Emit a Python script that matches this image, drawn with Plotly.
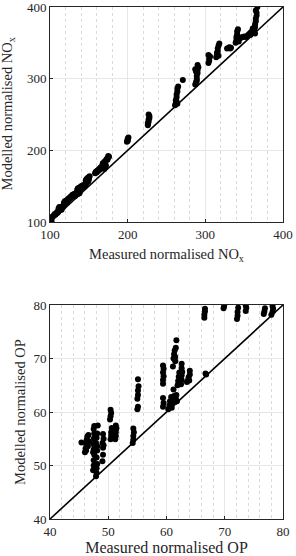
import plotly.graph_objects as go

# ---- Data: NOx (top panel) ----
nox_measured = [100,100,101,101,102,103,104,102,
    105,106,107,108,109,110,111,112,
    111,112,113,114,115,116,117,118,
    118,119,120,121,122,123,124,125,
    126,127,128,129,130,131,132,133,134,135,136,137,138,
    135,136,137,138,139,140,141,142,143,144,145,146,147,
    146,147,148,149,150,151,150,149,
    158,159,160,161,162,163,164,165,166,
    167,168,168,169,170,171,172,173,174,175,176,175,170,171,172,
    199,200,200,201,200,
    226,226,227,227,228,228,227,226,
    261,262,262,263,263,264,264,265,263,264,
    271,
    287,288,289,289,290,290,291,290,288,287,289,
    304,305,305,306,304,
    314,315,316,316,317,318,315,317,
    328,330,331,332,333,
    339,340,340,341,341,342,343,344,
    346,348,350,352,354,356,358,
    358,360,361,362,363,364,364,365,365,366,366,365,364,
    367]
nox_modelled = [102,104,103,106,105,107,108,101,
    109,111,110,112,114,113,115,116,
    119,121,118,120,117,122,121,123,
    127,129,128,130,127,132,131,134,
    133,136,135,138,137,139,136,140,138,141,139,142,140,
    145,147,144,148,146,150,149,151,148,152,150,153,154,
    158,160,157,162,161,164,159,156,
    168,170,169,172,171,174,173,176,175,
    178,176,182,180,184,183,186,188,187,190,191,192,174,177,179,
    212,214,216,218,213,
    235,238,240,243,245,248,250,237,
    263,266,270,274,278,282,286,289,268,265,
    298,
    292,295,300,304,308,312,316,319,310,313,297,
    322,325,328,331,333,
    330,334,338,342,346,349,336,332,
    342,343,344,342,343,
    350,354,358,362,366,369,352,356,
    357,358,359,358,360,362,361,
    364,366,370,365,368,372,376,380,384,388,392,395,363,
    400]

# ---- Data: OP (bottom panel) ----
op_measured = [45.4,
    46.0,46.1,46.2,46.3,46.4,46.5,46.6,46.2,46.7,
    47.4,47.5,47.5,47.6,47.5,47.4,47.5,47.6,47.5,47.6,47.4,47.7,
    47.9,48.0,48.0,48.1,48.0,48.1,47.9,48.0,48.1,48.2,48.1,
    49.0,49.1,49.1,49.0,49.2,49.1,49.2,
    50.3,50.4,50.5,50.4,
    50.4,50.5,50.5,50.6,
    51.2,51.3,51.3,51.4,51.3,
    54.2,54.3,54.3,54.4,54.3,
    55.0,55.1,55.0,55.1,55.1,55.2,55.1,
    59.4,59.4,59.5,59.4,59.5,59.4,59.4,59.5,59.4,
    60.3,60.5,60.6,60.8,61.0,61.1,61.3,61.4,61.6,61.7,61.8,60.9,61.2,
    61.1,61.2,61.3,61.4,61.5,61.6,61.7,61.5,
    61.9,62.0,62.1,62.2,
    62.5,62.6,62.6,62.7,62.6,62.6,
    63.5,63.7,63.8,64.0,64.0,63.9,
    66.8,66.7,
    66.5,66.5,66.6,66.6,
    69.8,69.9,
    72.1,72.2,72.2,72.3,
    73.6,73.7,73.6,
    76.7,76.8,76.9,
    78.0,78.2,78.3,78.2]
op_modelled = [54.3,
    52.5,53.2,54.0,54.8,55.4,53.6,55.7,52.8,54.5,
    49.1,50.0,51.0,52.0,53.0,54.0,55.0,56.0,56.8,57.4,52.5,53.5,
    48.0,48.6,49.5,50.3,51.5,52.8,54.2,55.2,56.0,57.5,53.6,
    50.8,52.0,53.3,54.2,55.0,55.9,53.8,
    58.6,59.2,59.8,60.4,
    54.9,55.6,56.2,57.0,
    54.9,55.5,56.2,56.9,57.5,
    54.2,54.8,55.5,56.2,56.9,
    60.5,61.0,62.5,63.2,64.0,64.8,66.1,
    65.3,66.0,66.7,67.4,68.1,68.7,61.0,61.7,62.6,
    60.5,61.2,62.0,62.8,61.5,62.3,63.0,61.8,62.5,63.2,62.0,60.8,64.2,
    68.5,70.0,70.8,71.5,69.5,72.0,73.4,70.3,
    65.0,65.8,66.6,67.4,
    65.2,66.0,66.8,67.5,68.2,69.0,
    65.6,66.0,66.5,67.0,67.7,65.9,
    67.0,67.2,
    77.6,78.2,78.8,79.3,
    79.4,79.8,
    77.4,78.0,78.7,79.5,
    78.9,79.5,79.9,
    78.3,78.8,79.4,
    78.2,78.7,79.3,79.8]

nox_range = [100, 400]
nox_ticks = [100, 200, 300, 400]
op_range = [40, 80]
op_ticks = [40, 50, 60, 70, 80]

FONT = "Liberation Serif"
AX = "#262626"
GRID = "#e6e6e6"
MINOR = "#dadada"

fig = go.Figure()
fig.add_trace(go.Scatter(x=nox_measured, y=nox_modelled, mode="markers",
    marker=dict(color="black", size=6), xaxis="x", yaxis="y", showlegend=False))
fig.add_trace(go.Scatter(x=nox_range, y=nox_range, mode="lines",
    line=dict(color="black", width=1.6), xaxis="x", yaxis="y", showlegend=False))
fig.add_trace(go.Scatter(x=op_measured, y=op_modelled, mode="markers",
    marker=dict(color="black", size=6), xaxis="x2", yaxis="y2", showlegend=False))
fig.add_trace(go.Scatter(x=op_range, y=op_range, mode="lines",
    line=dict(color="black", width=1.6), xaxis="x2", yaxis="y2", showlegend=False))

def xax(rng, ticks, minor, domain, anchor, title, tsize, standoff):
    return dict(range=rng, tickvals=ticks, domain=domain, anchor=anchor,
        automargin=False, ticklabeloverflow="allow",
        showline=True, mirror=True, linecolor=AX, linewidth=1,
        ticks="inside", ticklen=3, tickcolor=AX,
        showgrid=True, gridcolor=GRID, gridwidth=1, zeroline=False,
        minor=dict(dtick=minor, showgrid=True, gridcolor=MINOR, griddash="dot", gridwidth=1),
        tickfont=dict(family=FONT, size=13, color=AX),
        title=dict(text=title, font=dict(family=FONT, size=tsize, color=AX), standoff=standoff))

def yax(rng, ticks, domain, anchor):
    return dict(range=rng, tickvals=ticks, domain=domain, anchor=anchor,
        automargin=False, ticklabeloverflow="allow",
        showline=True, mirror=True, linecolor=AX, linewidth=1,
        ticks="inside", ticklen=3, tickcolor=AX,
        showgrid=True, gridcolor=GRID, gridwidth=1, zeroline=False,
        tickfont=dict(family=FONT, size=13, color=AX))

y1dom = [1-222/556, 1-7/556]
y2dom = [1-519/556, 1-305/556]

fig.update_layout(
    width=296, height=556, margin=dict(l=0, r=0, t=0, b=0, autoexpand=False),
    paper_bgcolor="white", plot_bgcolor="white",
    xaxis=xax(nox_range, nox_ticks, 20, [50/296, 283/296], "y", "Measured normalised NO<sub>x</sub>", 14.5, 8),
    yaxis=yax(nox_range, nox_ticks, y1dom, "x"),
    xaxis2=xax(op_range, op_ticks, 2, [50/296, 283/296], "y2", "Measured normalised OP", 16, 4),
    yaxis2=yax(op_range, op_ticks, y2dom, "x2"),
    annotations=[
        dict(text="Modelled normalised NO<sub>x</sub>", textangle=-90, xref="paper", yref="paper",
             x=8/296, y=(y1dom[0]+y1dom[1])/2, xanchor="center", yanchor="middle", showarrow=False,
             font=dict(family=FONT, size=14.5, color=AX)),
        dict(text="Modelled normalised OP", textangle=-90, xref="paper", yref="paper",
             x=20/296, y=(y2dom[0]+y2dom[1])/2, xanchor="center", yanchor="middle", showarrow=False,
             font=dict(family=FONT, size=14.5, color=AX)),
    ],
)

fig.write_html("out.html", config={"displayModeBar": False},
               post_script="document.body.style.margin='0px';document.body.style.overflow='hidden';")
